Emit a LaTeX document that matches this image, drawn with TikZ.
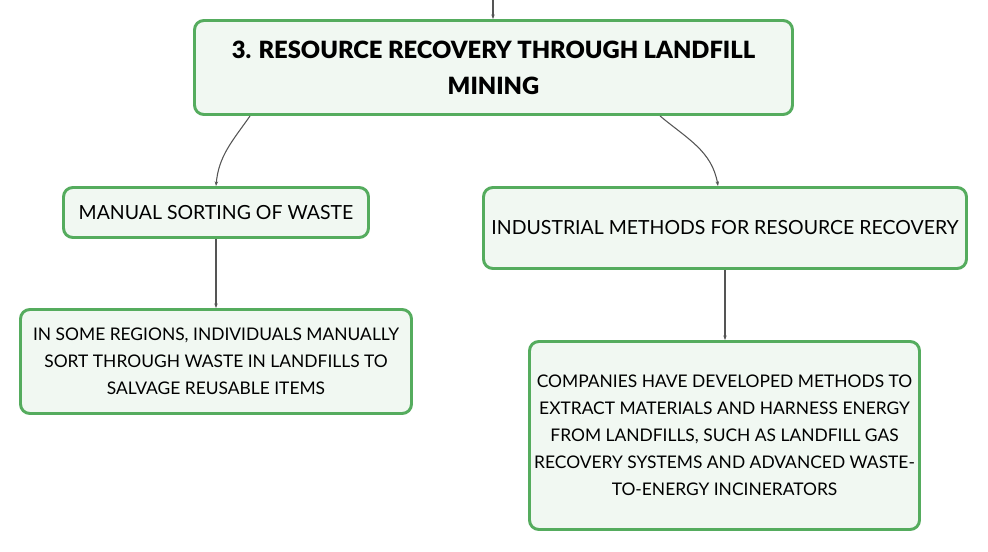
\documentclass[tikz,border=0pt]{standalone}
\usepackage{fontspec}
\setmainfont{Lato}
\newfontfamily\heavyfont{Lato Black}
\usetikzlibrary{calc,arrows.meta}
\definecolor{boxgreen}{HTML}{55AC5E}
\definecolor{boxfill}{HTML}{F1F8F2}
\definecolor{linkgray}{HTML}{555555}

\begin{document}
\begin{tikzpicture}[x=0.75pt,y=-0.75pt,
  box/.style={draw=boxgreen, fill=boxfill, line width=2.2pt, rounded corners=7pt, align=center, inner sep=0pt},
  txt/.style={font=\fontsize{14.6pt}{20.25pt}\selectfont},
  note/.style={font=\fontsize{13.05pt}{20.25pt}\selectfont},
  link/.style={draw=linkgray, line width=0.8pt, -{Stealth[length=3.5pt,width=2.6pt]}}]
\useasboundingbox (0,0) rectangle (988,552);
\node[box, minimum width=448.5pt, minimum height=70.5pt, font=\heavyfont\fontsize{17.8pt}{27pt}\selectfont] (title) at (493.5,67.5)
  {3. RESOURCE RECOVERY THROUGH LANDFILL\\MINING};
\node[box, txt, minimum width=228.75pt, minimum height=37.5pt] (manual) at (216,212.5) {MANUAL SORTING OF WASTE};
\node[box, txt, minimum width=362.25pt, minimum height=60.75pt] (industrial) at (725,228) {INDUSTRIAL METHODS FOR RESOURCE RECOVERY};
\node[box, note, minimum width=293.25pt, minimum height=78pt] (manualnote) at (216,361.5)
  {IN SOME REGIONS, INDIVIDUALS MANUALLY\\SORT THROUGH WASTE IN LANDFILLS TO\\SALVAGE REUSABLE ITEMS};
\node[box, note, minimum width=292.5pt, minimum height=141pt] (industrialnote) at (724.5,435.5)
  {COMPANIES HAVE DEVELOPED METHODS TO\\EXTRACT MATERIALS AND HARNESS ENERGY\\FROM LANDFILLS, SUCH AS LANDFILL GAS\\RECOVERY SYSTEMS AND ADVANCED WASTE-\\TO-ENERGY INCINERATORS};
% links
\coordinate (parent) at (493,0);
\draw[link] (parent) -- (parent |- title.north);
\draw[link] ($(title.south west)+(57,0)$) to[out=-125,in=85] (manual.north);
\draw[link] ($(title.south west)+(467,0)$) to[out=-40,in=100] ($(industrial.north west)+(236,0)$);
\draw[link] (manual) -- (manualnote);
\draw[link] (industrial) -- (industrial |- industrialnote.north);
\end{tikzpicture}
\end{document}
